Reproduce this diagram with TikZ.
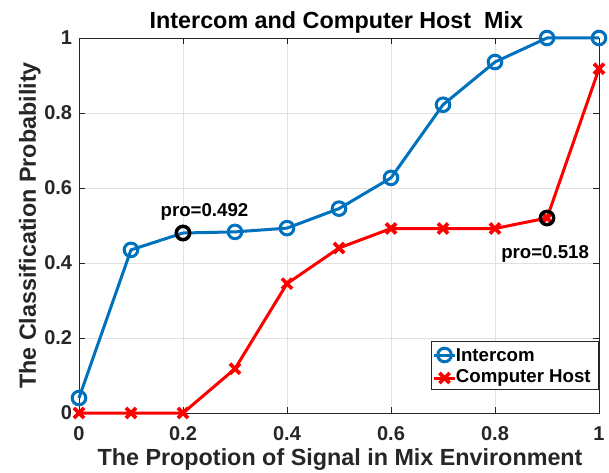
\documentclass[tikz,border=0pt]{standalone}
\usepackage{fontspec}
\setmainfont{Liberation Sans}
\usetikzlibrary{positioning}
\definecolor{intercom}{RGB}{0,114,189}
\definecolor{axisgray}{RGB}{38,38,38}
\definecolor{gridgray}{RGB}{225,225,225}

\begin{document}
\begin{tikzpicture}[x=390pt, y=281.25pt,
    ticklabel/.style={font=\fontsize{15}{15}\selectfont\bfseries, text=axisgray, inner sep=0pt},
    axlabel/.style={font=\fontsize{17.5}{17.5}\selectfont\bfseries, text=axisgray, inner sep=0pt},
    legtext/.style={font=\fontsize{14}{14}\selectfont\bfseries, inner sep=0pt},
    blueline/.style={intercom, line width=2.25pt, line join=round},
    redline/.style={red, line width=2.25pt, line join=round},
    circmark/.style={intercom, line width=2.25pt},
    crossmark/.style={red, line width=2.7pt},
    hitmark/.style={black, line width=2.6pt}]

\useasboundingbox (-0.1519,-0.15733) rectangle (1.01923,1.10133);

% Grid and axes
\foreach \t in {0.2,0.4,0.6,0.8} {
    \draw[gridgray, line width=0.6pt] (\t,0) -- (\t,1);
    \draw[gridgray, line width=0.6pt] (0,\t) -- (1,\t);
}
\draw[axisgray, line width=0.7pt] (0,0) rectangle (1,1);
\foreach \t in {0.2,0.4,0.6,0.8} {
    \draw[axisgray, line width=0.7pt] (\t,0) -- ++(0,4.5pt) (\t,1) -- ++(0,-4.5pt);
    \draw[axisgray, line width=0.7pt] (0,\t) -- ++(4.5pt,0) (1,\t) -- ++(-4.5pt,0);
}
\foreach \t/\lab in {0/0,0.2/0.2,0.4/0.4,0.6/0.6,0.8/0.8,1/1} {
    \node[ticklabel, anchor=base] (xt\lab) at ([yshift=-20.8pt]\t,0) {\lab};
    \node[ticklabel, anchor=east] (yt\lab) at ([xshift=-5pt]0,\t) {\lab};
}

% Labels
\node[axlabel, text=black, anchor=base] (title) at (0.495,1.026) {Intercom and Computer Host\ \ Mix};
\node[axlabel, anchor=base] (xlabel) at ([yshift=-39pt]0.502,0) {The Propotion of Signal in Mix Environment};
\node[axlabel, anchor=base, rotate=90] (ylabel) at ([xshift=-32.25pt]0,0.5) {The Classification Probability};

% Data points
\foreach \x/\y [count=\i] in {0/0.04,0.1/0.435,0.2/0.48,0.3/0.483,0.4/0.493,0.5/0.545,0.6/0.627,0.7/0.822,0.8/0.936,0.9/1,1/1}
    \coordinate (ic\i) at (\x,\y);
\foreach \x/\y [count=\i] in {0/0,0.1/0,0.2/0,0.3/0.118,0.4/0.345,0.5/0.44,0.6/0.492,0.7/0.492,0.8/0.492,0.9/0.52,1/0.918}
    \coordinate (ch\i) at (\x,\y);

\draw[blueline] (ic1) \foreach \i in {2,...,11} { -- (ic\i) };
\foreach \i in {1,...,11}
    \draw[circmark] (ic\i) circle[radius=5.1pt];
\draw[redline] (ch1) \foreach \i in {2,...,11} { -- (ch\i) };
\foreach \i in {1,...,11}
    \draw[crossmark] ([shift={(-3.8pt,-3.8pt)}]ch\i) -- ([shift={(3.8pt,3.8pt)}]ch\i)
        ([shift={(-3.8pt,3.8pt)}]ch\i) -- ([shift={(3.8pt,-3.8pt)}]ch\i);

% Highlighted points
\draw[hitmark] (ic3) circle[radius=5pt];
\draw[hitmark] (ch10) circle[radius=5pt];
\node[legtext, anchor=base west] (pro1) at (0.1565,0.525) {pro=0.492};
\node[legtext, anchor=base west] (pro2) at (0.8115,0.4125) {pro=0.518};

% Legend
\draw[axisgray, fill=white, line width=0.6pt] (0.677,0.063) rectangle (0.998,0.190);
\coordinate (l1a) at (0.683,0.1547);
\coordinate (l1b) at (0.723,0.1547);
\coordinate (l1m) at (0.703,0.1547);
\coordinate (l2a) at (0.683,0.0933);
\coordinate (l2b) at (0.723,0.0933);
\coordinate (l2m) at (0.703,0.0933);
\draw[blueline] (l1a) -- (l1b);
\draw[circmark] (l1m) circle[radius=5.1pt];
\draw[redline] (l2a) -- (l2b);
\draw[crossmark] ([shift={(-3.8pt,-3.8pt)}]l2m) -- ([shift={(3.8pt,3.8pt)}]l2m)
    ([shift={(-3.8pt,3.8pt)}]l2m) -- ([shift={(3.8pt,-3.8pt)}]l2m);
\node[legtext, anchor=west, right=0.5pt of l1b] (leg1) {Intercom};
\node[legtext, anchor=west, right=0.5pt of l2b] (leg2) {Computer Host};

\end{tikzpicture}
\end{document}
